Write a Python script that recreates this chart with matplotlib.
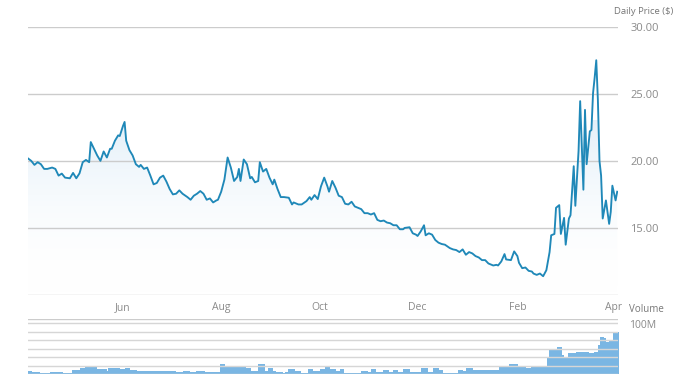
import matplotlib
matplotlib.use('Agg')
import matplotlib.pyplot as plt
import matplotlib.dates as mdates
from matplotlib.colors import LinearSegmentedColormap
import numpy as np
import pandas as pd

plt.rcParams['font.family'] = ['Open Sans', 'DejaVu Sans']

start = pd.Timestamp('2015-04-03')

# price samples: days since start, closing price ($)
price_days = [0, 2, 4, 6, 8, 10, 12, 15, 17, 19, 21, 23, 26, 28, 30, 32, 34, 36, 38, 39,
              41, 43, 45, 47, 49, 51, 52, 54, 56, 57, 59, 60, 61, 63, 65, 67, 69, 70, 72, 74,
              76, 78, 80, 82, 84, 86, 88, 90, 92, 94, 96, 99, 101, 103, 105, 107, 109, 111, 113, 115,
              117, 118, 120, 122, 124, 126, 128, 130, 131, 132, 134, 136, 138, 139, 141, 143, 144, 146, 148, 150,
              152, 153, 155, 157, 159, 162, 164, 165, 168, 170, 173, 175, 176, 178, 180, 182, 184, 186, 187, 189,
              191, 193, 195, 197, 199, 201, 203, 205, 207, 209, 211, 213, 215, 217, 219, 221, 223, 225, 227, 229,
              231, 233, 234, 237, 239, 241, 242, 244, 246, 247, 249, 251, 253, 255, 257, 259, 262, 264, 266, 268,
              270, 272, 274, 276, 278, 280, 282, 284, 286, 289, 291, 292, 294, 296, 297, 300, 302, 304, 305, 307,
              309, 311, 313, 314, 316, 318, 320, 322, 324, 325, 327, 328, 330, 331, 333, 334, 336, 337, 339, 340,
              342, 343, 345, 346, 347, 349, 350, 351, 352, 353, 354, 355, 356, 357, 359, 361, 362, 363, 365, 366]
price = [20.18, 20.0, 19.7, 19.9, 19.75, 19.4, 19.4, 19.5, 19.4, 18.9, 19.05, 18.75, 18.7, 19.1, 18.7, 19.07, 19.9, 20.07, 19.9, 21.4,
         20.9, 20.4, 20.0, 20.7, 20.25, 20.9, 20.9, 21.5, 21.9, 21.85, 22.6, 22.9, 21.5, 20.8, 20.4, 19.75, 19.55, 19.7, 19.4, 19.5,
         18.9, 18.25, 18.35, 18.75, 18.9, 18.45, 17.9, 17.5, 17.55, 17.8, 17.55, 17.3, 17.1, 17.4, 17.55, 17.75, 17.55, 17.1, 17.2, 16.9,
         17.05, 17.1, 17.7, 18.6, 20.25, 19.5, 18.5, 18.8, 19.4, 18.5, 20.1, 19.75, 18.7, 18.8, 18.4, 18.5, 19.9, 19.2, 19.4, 18.75,
         18.25, 18.6, 17.9, 17.3, 17.3, 17.25, 16.75, 16.9, 16.75, 16.75, 17.0, 17.3, 17.1, 17.45, 17.15, 18.1, 18.75, 18.1, 17.7, 18.5,
         18.0, 17.4, 17.3, 16.8, 16.75, 16.95, 16.6, 16.5, 16.4, 16.1, 16.1, 16.0, 16.1, 15.6, 15.5, 15.55, 15.4, 15.35, 15.2, 15.2,
         14.9, 14.9, 15.0, 15.05, 14.6, 14.5, 14.4, 14.75, 15.2, 14.45, 14.6, 14.5, 14.1, 13.9, 13.8, 13.75, 13.5, 13.4, 13.35, 13.2,
         13.4, 13.0, 13.2, 13.1, 12.9, 12.8, 12.6, 12.6, 12.35, 12.2, 12.25, 12.2, 12.5, 13.05, 12.65, 12.6, 13.25, 12.9, 12.4, 12.0,
         12.05, 11.8, 11.75, 11.6, 11.5, 11.6, 11.4, 11.85, 13.2, 14.45, 14.55, 16.5, 16.7, 14.55, 15.75, 13.75, 15.7, 15.95, 19.6, 16.65,
         20.75, 24.45, 17.85, 23.8, 19.75, 22.2, 22.3, 25.05, 26.2, 27.5, 24.55, 20.0, 18.9, 15.7, 17.05, 15.3, 16.2, 18.15, 17.05, 17.7]

# volume (millions), stepped: day each step begins
volume_days = [0, 2.3, 7.4, 13.6, 21.9, 27.1, 32.3, 35.4, 42.6, 48.8, 49.8, 57.1, 60.2, 63.3, 67.4, 73.6, 79.8, 86.0, 92.2, 96.4,
               100.5, 104.6, 109.8, 119.1, 122.2, 126.4, 129.5, 131.5, 135.7, 138.8, 142.9, 147.0, 149.1, 152.2, 154.3, 158.4, 159.4, 161.5, 165.6, 169.8,
               173.9, 177.0, 181.1, 184.2, 187.3, 191.5, 193.5, 196.6, 207.0, 211.1, 213.2, 216.3, 220.4, 224.5, 226.6, 229.7, 232.8, 237.0, 244.2, 248.3,
               251.4, 255.6, 257.6, 266.9, 270.0, 272.1, 276.2, 292.8, 298.6, 304.2, 306.2, 309.3, 312.4, 314.5, 317.6, 322.1, 323.8, 328.3, 331.7, 333.1,
               335.2, 336.2, 340.4, 345.5, 348.6, 351.7, 353.8, 355.2, 357.9, 359.3, 360.6, 362.7, 363.5, 367.0]
volume = [7, 5, 2.5, 5, 3, 9, 13, 19, 11, 7, 13, 12, 13, 9, 7, 6, 7, 6, 5, 6,
          4, 6, 5, 23, 19, 17, 16, 19, 13, 7, 24, 7, 13, 7, 5, 2.5, 5, 11, 7, 3,
          11, 7, 11, 17, 11, 7, 11, 3, 7, 5, 11, 5, 9, 5, 9, 5, 11, 4, 15, 5,
          15, 9, 3, 9, 7, 13, 9, 19, 24, 19, 17, 13, 19, 17, 19, 37, 59, 63, 45, 37,
          50, 49, 53, 51, 50, 53, 68, 87, 84, 75, 80, 79, 100, 100]

month_ticks = ['2015-06-01', '2015-08-01', '2015-10-01', '2015-12-01', '2016-02-01', '2016-04-01']
price_ticks = [15, 20, 25, 30]

LINE = '#1f88b8'
GRID = '#cccccc'
TXT = '#8a8a8a'

dates = start + pd.to_timedelta(price_days, unit='D')
vdates = start + pd.to_timedelta(volume_days, unit='D')
x0 = mdates.date2num(start)
x1 = x0 + 366.5

fig = plt.figure(figsize=(7, 3.87), dpi=100)
ax = fig.add_axes([28 / 700, 1 - 295 / 387, 590 / 700, (295 - 26.7) / 387])
axv = fig.add_axes([28 / 700, 1 - 374 / 387, 590 / 700, 55 / 387])

# price panel
xs = mdates.date2num(dates)
cmap = LinearSegmentedColormap.from_list('fade', [(1, 1, 1, 0), (0.55, 0.75, 0.9, 0.24)])
grad = ax.imshow(np.linspace(0, 1, 256).reshape(-1, 1), cmap=cmap, aspect='auto',
                 extent=[x0, x1, 10, 23], origin='lower', zorder=1)
poly = ax.fill_between(xs, price, 10, color='none', lw=0)
grad.set_clip_path(poly.get_paths()[0], transform=ax.transData)
ax.plot(xs, price, color=LINE, lw=1.35, zorder=4, solid_joinstyle='round')

ax.set_xlim(x0, x1)
ax.set_ylim(10, 30)
for s in ax.spines.values():
    s.set_visible(False)
for v in [10] + price_ticks:
    ax.axhline(v, color=GRID, lw=1, zorder=2)
ax.yaxis.tick_right()
ax.set_yticks(price_ticks)
ax.set_yticklabels(['%.2f' % v for v in price_ticks])
ax.tick_params(axis='y', length=0, pad=9, labelsize=8, labelcolor=TXT)
ax.set_xticks(mdates.date2num(pd.to_datetime(month_ticks)))
ax.set_xticklabels([pd.Timestamp(m).strftime('%b') for m in month_ticks])
ax.tick_params(axis='x', length=0, pad=5, labelsize=7.5, labelcolor=TXT)
for lbl in ax.get_yticklabels():
    lbl.set_horizontalalignment('left')
fig.text(614 / 700, 1 - 12 / 387, 'Daily Price ($)', fontsize=6.8, color='#777777',
         ha='left', va='center')

# volume panel
vx = mdates.date2num(vdates)
axv.fill_between(vx, volume, 0, step='post', color='#7ab6e3', lw=0, zorder=1)
axv.set_xlim(x0, x1)
axv.set_ylim(0, 130)
for v in range(0, 140, 20):
    axv.axhline(v, color='#d6d6d6', lw=1, zorder=3)
axv.axhline(130, color=GRID, lw=1, zorder=3)
for s in axv.spines.values():
    s.set_visible(False)
axv.set_xticks([])
axv.set_yticks([])
fig.text(629 / 700, 1 - 309 / 387, 'Volume', fontsize=7, color='#777777', ha='left', va='center')
fig.text(629 / 700, 1 - 326 / 387, '100M', fontsize=7.5, color=TXT, ha='left', va='center')

fig.savefig('out.png', dpi=100)
